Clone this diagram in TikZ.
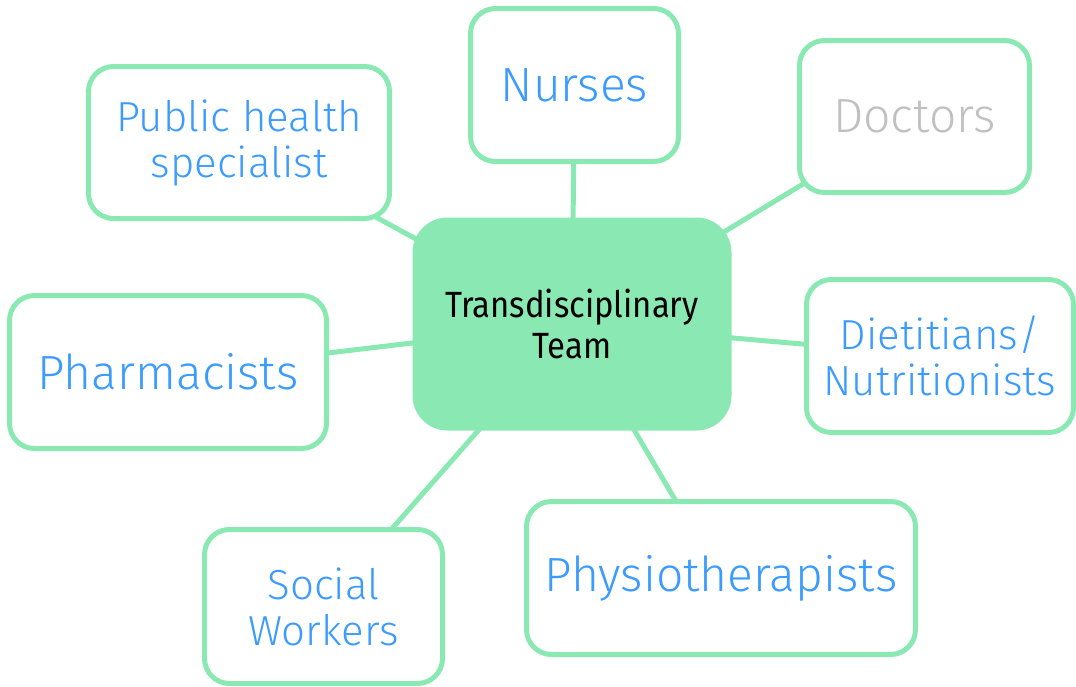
\documentclass[tikz,border=0pt]{standalone}
\usepackage{fontspec}
\setmainfont{Fira Sans Light}
\newfontfamily\teamfont[FakeStretch=0.9]{Fira Sans}
\usetikzlibrary{backgrounds}
\definecolor{mint}{RGB}{138,232,179}
\definecolor{sky}{RGB}{59,155,255}
\definecolor{mist}{RGB}{192,192,192}

\begin{document}
\begin{tikzpicture}[x=1pt,y=-1pt,
        role/.style={draw=mint, line width=5pt, rounded corners=25pt, fill=white,
            text=sky, align=center, inner sep=0pt},
        hub/.style={fill=mint, rounded corners=35pt, align=center, inner sep=0pt,
            minimum width=319pt, minimum height=213pt,
            font=\teamfont\fontsize{36.5}{41}\selectfont},
        big/.style={font=\fontsize{48}{54}\selectfont},
        small/.style={font=\fontsize{42}{46}\selectfont}]

    \useasboundingbox (0,0) rectangle (1076,686);

    \node[hub] (T) at (572,324) {Transdisciplinary\\Team};

    \node[role, big, minimum width=208pt, minimum height=153pt] (N) at (574.5,85) {Nurses};
    \node[role, big, text=mist, minimum width=230pt, minimum height=152pt] (D) at (914.5,116.5) {Doctors};
    \node[role, small, minimum width=301pt, minimum height=152pt] (PH) at (239,142.5) {Public health\\specialist};
    \node[role, big, minimum width=317pt, minimum height=153pt] (PM) at (168,372) {Pharmacists};
    \node[role, small, minimum width=267pt, minimum height=153pt] (DN) at (940,356) {Dietitians/\\Nutritionists};
    \node[role, big, minimum width=389pt, minimum height=153pt] (PT) at (721,578) {Physiotherapists};
    \node[role, small, minimum width=238pt, minimum height=154pt] (SW) at (323.5,606.5) {Social\\Workers};

    % spokes behind the boxes
    \begin{scope}[on background layer]
        \foreach \n in {N,D,PH,PM,DN,PT,SW}
            \draw[mint, line width=5pt] (T.center) -- (\n.center);
    \end{scope}

\end{tikzpicture}
\end{document}
